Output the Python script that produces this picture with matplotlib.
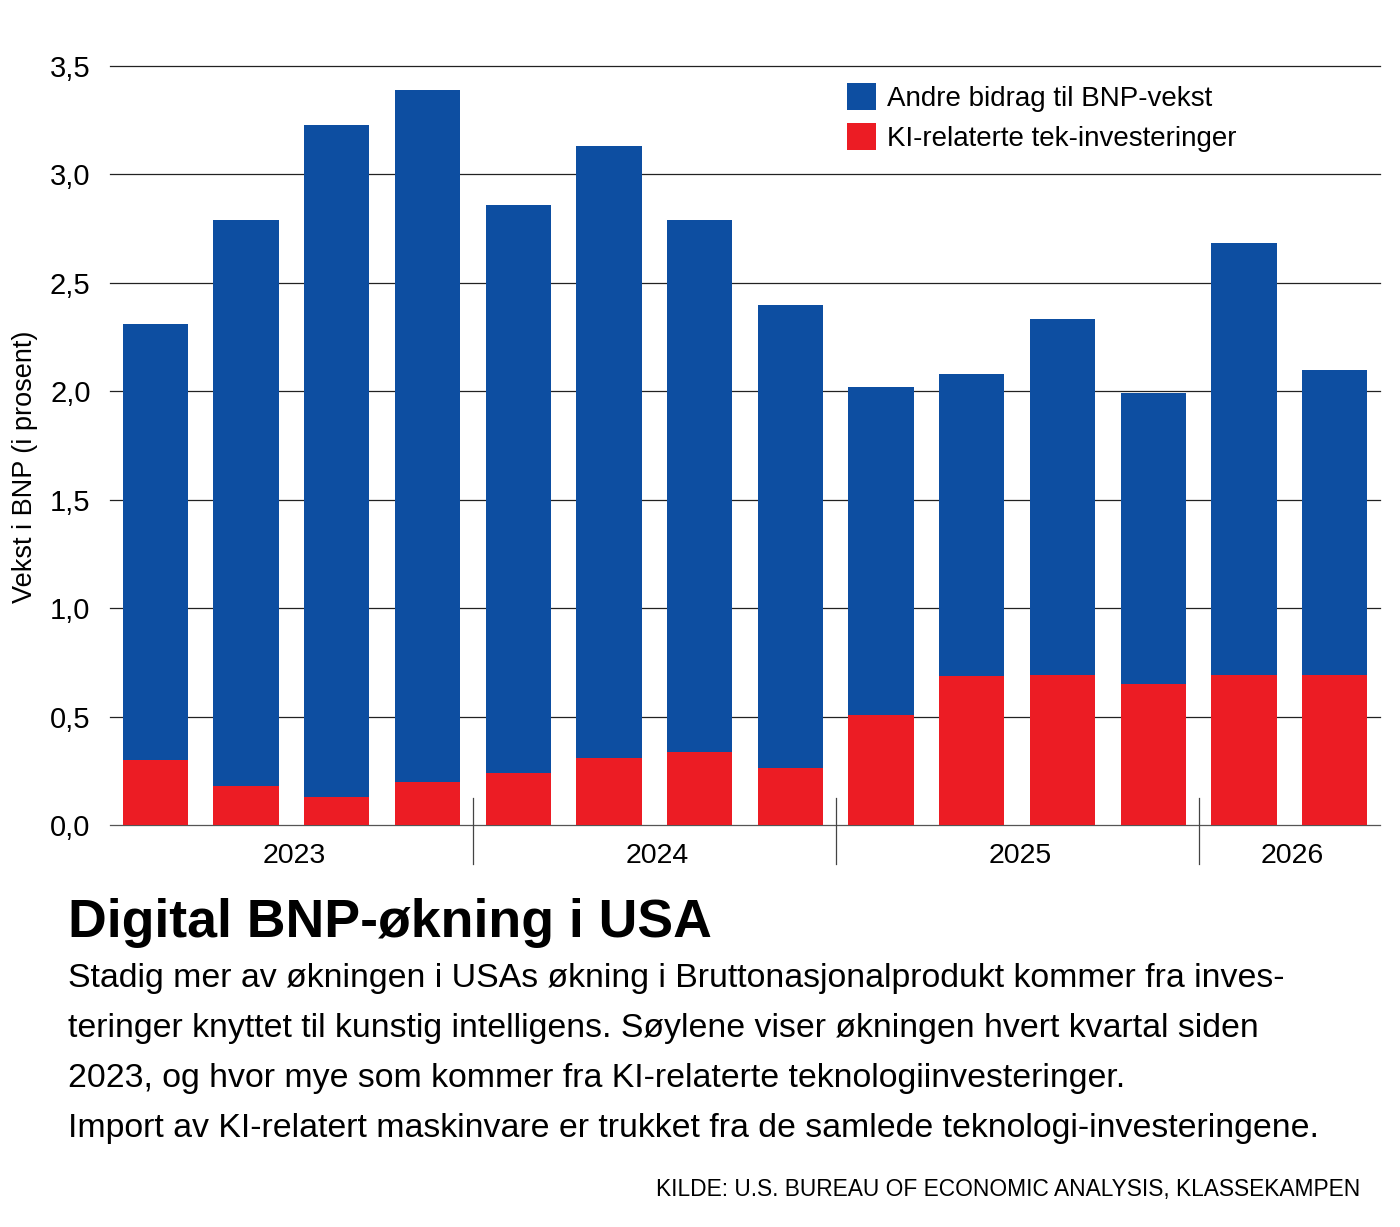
import matplotlib.pyplot as plt

plt.rcParams['font.family'] = ['Liberation Sans', 'DejaVu Sans']

# data (percentage points, quarterly from 2023 K1)
quarters = ['2023K1', '2023K2', '2023K3', '2023K4',
            '2024K1', '2024K2', '2024K3', '2024K4',
            '2025K1', '2025K2', '2025K3', '2025K4',
            '2026K1', '2026K2']
ki_invest = [0.30, 0.18, 0.13, 0.20, 0.24, 0.31, 0.335, 0.265,
             0.505, 0.685, 0.69, 0.65, 0.69, 0.69]
andre_bidrag = [2.01, 2.61, 3.10, 3.19, 2.62, 2.82, 2.455, 2.135,
                1.515, 1.395, 1.645, 1.34, 1.995, 1.41]
years = ['2023', '2024', '2025', '2026']
year_mid = [1.5, 5.5, 9.5, 12.5]
year_breaks = [3.5, 7.5, 11.5]
yticks = [0, 0.5, 1.0, 1.5, 2.0, 2.5, 3.0, 3.5]

blue = '#0D4EA1'
red = '#EC1C24'

fig = plt.figure(figsize=(14, 12.27), dpi=100)
ax = fig.add_axes([110 / 1400, 1 - 825 / 1227, 1270 / 1400, (825 - 66) / 1227])

x = list(range(len(quarters)))
b1 = ax.bar(x, ki_invest, width=0.72, color=red, zorder=2)
b2 = ax.bar(x, andre_bidrag, width=0.72, bottom=ki_invest, color=blue, zorder=2)

ax.set_xlim(-0.5, 13.5)
ax.set_ylim(0, 3.5)
ax.set_yticks(yticks)
ax.set_yticklabels([f'{v:.1f}'.replace('.', ',') for v in yticks], fontsize=21)
ax.tick_params(axis='y', length=0, pad=14)
ax.set_xticks([])
for s in ax.spines.values():
    s.set_visible(False)
for v in yticks:
    ax.axhline(v, color='#555555' if v == 0 else '#222222', lw=0.9, zorder=1, clip_on=False)

ax.set_ylabel('Vekst i BNP (i prosent)', fontsize=19.5)
ax.yaxis.set_label_coords(-72 / 1270, 0.4717)

# year labels and separators under the axis
for yr, xm in zip(years, year_mid):
    ax.text(xm + 0.03, -0.145, yr, ha='center', va='center', fontsize=20.5)
for xb in year_breaks:
    ax.plot([xb, xb], [0.125, -0.18], color='#444444', lw=0.9, clip_on=False, zorder=3)

ax.legend([b2, b1], ['Andre bidrag til BNP-vekst', 'KI-relaterte tek-investeringer'],
          loc='upper left', bbox_to_anchor=(847 / 1400, 1 - 83 / 1227),
          bbox_transform=fig.transFigure, frameon=False, fontsize=20,
          handlelength=1.05, handleheight=1.1, handletextpad=0.4,
          labelspacing=0.4, borderpad=0, borderaxespad=0)

fig.text(68 / 1400, 1 - 937 / 1227, 'Digital BNP-økning i USA', fontsize=38.6,
         fontweight='bold', va='baseline', ha='left')

lines = ['Stadig mer av økningen i USAs økning i Bruttonasjonalprodukt kommer fra inves-',
         'teringer knyttet til kunstig intelligens. Søylene viser økningen hvert kvartal siden',
         '2023, og hvor mye som kommer fra KI-relaterte teknologiinvesteringer.',
         'Import av KI-relatert maskinvare er trukket fra de samlede teknologi-investeringene.']
for i, line in enumerate(lines):
    fig.text(68 / 1400, 1 - (987 + 50 * i) / 1227, line, fontsize=24.4,
             va='baseline', ha='left')

fig.text(1360 / 1400, 1 - 1196 / 1227, 'KILDE: U.S. BUREAU OF ECONOMIC ANALYSIS, KLASSEKAMPEN',
         fontsize=16.4, va='baseline', ha='right')

fig.savefig('out.png', dpi=100)
